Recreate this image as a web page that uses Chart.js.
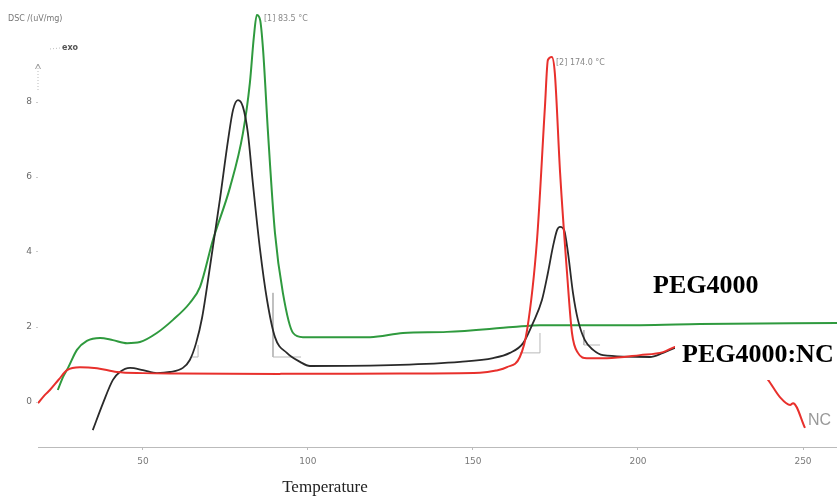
<!DOCTYPE html>
<html><head><meta charset="utf-8">
<script src="https://cdn.jsdelivr.net/npm/chart.js@4.4.1/dist/chart.umd.min.js"></script>
<style>html,body{margin:0;padding:0;background:#fff}#wrap{width:837px;height:502px;position:relative}</style>
</head><body><div id="wrap"><canvas id="c" width="837" height="502"></canvas></div>
<script>
// ---- data ----
const xTicks = [50, 100, 150, 200, 250];
const yTicks = [0, 2, 4, 6, 8];
const seriesNames = ['PEG4000', 'PEG4000:NC', 'NC'];
const peakLabels = ['[1] 83.5 °C', '[2] 174.0 °C'];
const axisTitleX = 'Temperature';
const axisTitleY = 'DSC /(uV/mg)';

// PEG4000 (green)
const tempPEG = [24.2, 25.8, 27.3, 30.0, 33.0, 37.0, 40.9, 45.2, 49.1, 54.2, 59.1, 64.2, 67.3, 71.2, 76.4, 80.3, 82.4, 83.6, 84.5, 85.5, 86.4, 87.9, 90.0, 92.4, 95.5, 98.5, 103.6, 118.8, 128.8, 142.1, 162.1, 170.3, 200.6, 218.8, 260.3];
const dscPEG  = [0.32, 0.67, 0.91, 1.39, 1.63, 1.71, 1.65, 1.57, 1.60, 1.84, 2.19, 2.64, 3.07, 4.32, 5.73, 7.17, 8.51, 9.73, 10.32, 10.19, 9.39, 7.17, 4.51, 2.91, 1.84, 1.73, 1.73, 1.73, 1.84, 1.87, 2.00, 2.05, 2.05, 2.08, 2.11];

// PEG4000:NC (black)
const tempMix = [34.8, 37.9, 40.9, 43.0, 46.1, 50.0, 54.2, 58.2, 62.1, 64.2, 66.1, 67.9, 70.3, 73.3, 75.8, 77.3, 78.8, 80.3, 81.8, 83.3, 85.5, 87.6, 90.0, 93.6, 97.6, 100.6, 127.9, 146.1, 156.1, 161.2, 165.2, 168.2, 170.9, 172.7, 174.2, 175.5, 176.4, 177.6, 178.8, 180.3, 181.8, 183.9, 186.4, 189.4, 203.6, 207.6, 211.2, 213.6];
const dscMix  = [-0.75, -0.03, 0.59, 0.80, 0.91, 0.85, 0.77, 0.80, 0.91, 1.12, 1.57, 2.24, 3.60, 5.39, 6.99, 7.79, 8.05, 7.87, 7.17, 5.84, 4.05, 2.72, 1.73, 1.31, 1.07, 0.96, 0.99, 1.07, 1.17, 1.31, 1.57, 2.11, 2.72, 3.44, 4.13, 4.59, 4.67, 4.59, 3.97, 2.91, 2.19, 1.65, 1.39, 1.25, 1.20, 1.31, 1.44, 1.50];

// NC (red)
const tempNC = [18.2, 20.3, 21.8, 24.5, 27.0, 30.9, 36.1, 42.1, 50.0, 61.2, 91.5, 127.9, 152.1, 157.0, 160.3, 164.2, 166.4, 169.4, 171.8, 172.7, 173.9, 174.8, 176.4, 178.5, 180.0, 181.8, 184.5, 190.6, 200.6, 207.6, 211.2, 218.8, 227.9, 234.0, 239.4, 243.0, 246.1, 247.0, 250.6];
const dscNC  = [-0.03, 0.19, 0.32, 0.60, 0.85, 0.93, 0.90, 0.80, 0.77, 0.76, 0.75, 0.76, 0.78, 0.84, 0.93, 1.20, 1.92, 4.32, 7.87, 9.12, 9.20, 8.77, 6.11, 3.44, 1.84, 1.31, 1.17, 1.17, 1.25, 1.33, 1.47, 1.60, 1.50, 1.10, 0.59, 0.13, -0.08, -0.03, -0.69];

// integration baselines (thin grey)
const tempBase1 = [64.5, 66.7, 66.7, 78.0, 89.4, 89.4, 97.9];
const dscBase1  = [1.20, 1.20, 1.52, null, 2.91, 1.20, 1.20];
const tempBase2 = [164.2, 170.3, 170.3, 177.0, 183.6, 183.6, 188.5];
const dscBase2  = [1.31, 1.31, 1.84, null, 1.92, 1.52, 1.52];

function pts(t, v) { return t.map((x, i) => ({ x: x, y: v[i] })); }

const textPlugin = {
  id: 'texts',
  afterDraw(chart) {
    const ctx = chart.ctx;
    ctx.save();
    ctx.fillStyle = '#777';
    ctx.font = '8px "DejaVu Sans"';
    ctx.textBaseline = 'middle';
    ctx.textAlign = 'left';
    ctx.fillText(axisTitleY, 8, 19);
    ctx.fillStyle = '#555';
    ctx.font = 'bold 8px "DejaVu Sans"';
    ctx.fillText('exo', 62, 48);
    ctx.strokeStyle = '#bbb';
    ctx.lineWidth = 1;
    ctx.setLineDash([1, 2]);
    ctx.beginPath(); ctx.moveTo(50, 49); ctx.lineTo(60, 48); ctx.stroke();
    ctx.beginPath(); ctx.moveTo(38, 90); ctx.lineTo(38, 65); ctx.stroke();
    ctx.setLineDash([]);
    ctx.strokeStyle = '#999';
    ctx.beginPath(); ctx.moveTo(35.5, 69); ctx.lineTo(38, 64); ctx.lineTo(40.5, 69); ctx.stroke();
    ctx.fillStyle = '#888';
    ctx.font = '8px "DejaVu Sans"';
    ctx.fillText(peakLabels[0], 264, 19);
    ctx.fillText(peakLabels[1], 556, 63);
    ctx.fillStyle = '#000';
    ctx.textBaseline = 'alphabetic';
    ctx.font = 'bold 26px "Liberation Serif"';
    ctx.fillText(seriesNames[0], 653, 293);
    ctx.fillStyle = '#fff';
    ctx.fillRect(675, 332, 162, 48);
    ctx.fillStyle = '#000';
    ctx.fillText(seriesNames[1], 682, 362);
    ctx.fillStyle = '#999';
    ctx.font = '16px "Liberation Sans"';
    ctx.fillText(seriesNames[2], 808, 425);
    ctx.fillStyle = '#222';
    ctx.font = '17px "Liberation Serif"';
    ctx.textAlign = 'center';
    ctx.fillText(axisTitleX, 325, 492);
    ctx.restore();
  }
};

const lineDs = (label, data, color, width, order) => ({
  label: label, data: data, borderColor: color, backgroundColor: color,
  borderWidth: width, pointRadius: 0, fill: false, order: order,
  cubicInterpolationMode: 'monotone', tension: 0.4, spanGaps: false
});
const baseDs = (data) => ({
  label: 'baseline', data: data, borderColor: '#b8b8b8', borderWidth: 1,
  pointRadius: 0, fill: false, tension: 0, spanGaps: false, order: 5
});

new Chart(document.getElementById('c'), {
  type: 'line',
  data: {
    datasets: [
      lineDs(seriesNames[2], pts(tempNC, dscNC), '#e8302c', 2, 0),
      lineDs(seriesNames[1], pts(tempMix, dscMix), '#2a2a2a', 1.8, 1),
      lineDs(seriesNames[0], pts(tempPEG, dscPEG), '#2f9a3e', 2, 2),
      baseDs(pts(tempBase1, dscBase1)),
      baseDs(pts(tempBase2, dscBase2))
    ]
  },
  options: {
    responsive: false,
    animation: false,
    events: [],
    layout: { padding: 0 },
    plugins: { legend: { display: false }, tooltip: { enabled: false } },
    scales: {
      x: {
        type: 'linear', min: 18.2, max: 260.3,
        afterBuildTicks: s => { s.ticks = xTicks.map(v => ({ value: v })); },
        afterFit: s => { s.height = 55; s.paddingLeft = 0; s.paddingRight = 0; },
        ticks: { color: '#7a7a7a', font: { size: 9, family: 'DejaVu Sans' }, padding: 6, maxRotation: 0 },
        grid: { display: true, drawOnChartArea: false, tickLength: 3, color: '#bbb' },
        border: { display: true, color: '#bbb', dash: [2, 2] }
      },
      y: {
        type: 'linear', min: -1.2, max: 10.72,
        afterBuildTicks: s => { s.ticks = yTicks.map(v => ({ value: v })); },
        afterFit: s => { s.width = 38; s.paddingTop = 0; s.paddingBottom = 0; },
        ticks: { color: '#6a6a6a', font: { size: 9, family: 'DejaVu Sans' }, padding: 4 },
        grid: { display: true, drawOnChartArea: false, tickLength: 2, color: '#ccc' },
        border: { display: false }
      }
    }
  },
  plugins: [textPlugin]
});
</script>
</body></html>
